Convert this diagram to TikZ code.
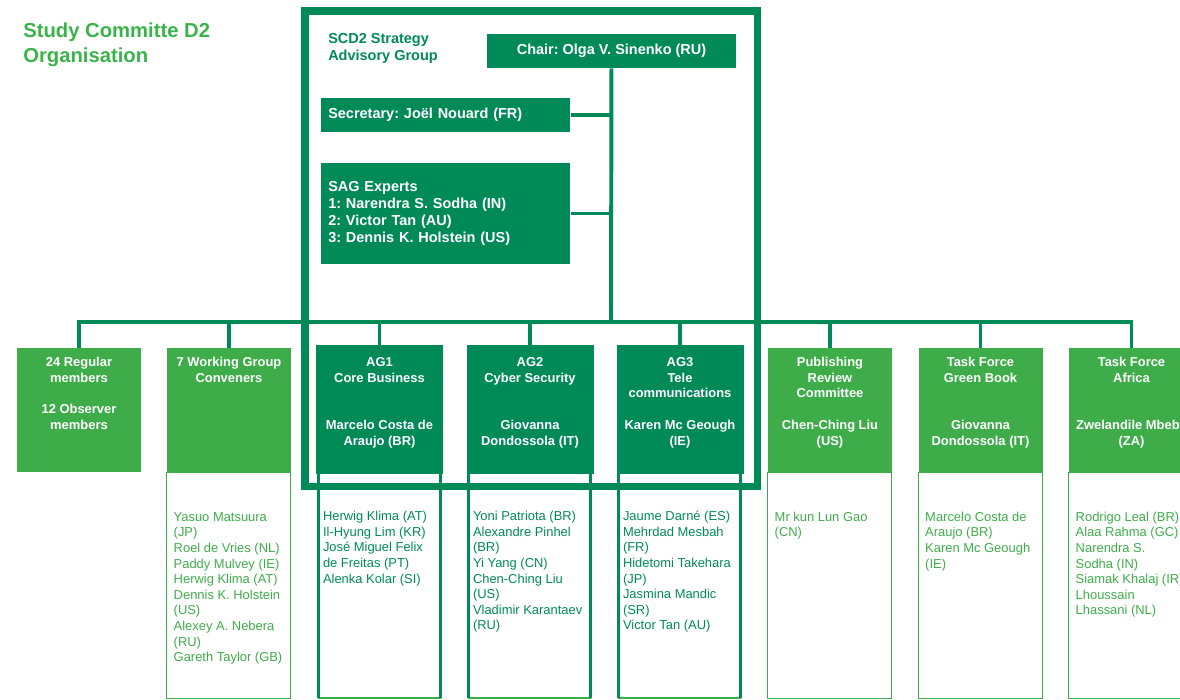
\documentclass[tikz,border=0pt]{standalone}
\usepackage{fontspec}
\setmainfont{Liberation Sans}
\usepackage{tikz}

\definecolor{sgdark}{RGB}{0,138,88}
\definecolor{sglight}{RGB}{62,173,73}
\definecolor{sgtitle}{RGB}{58,180,74}
\newlength\pxu
\setlength\pxu{0.025cm}
\frenchspacing
\newcommand{\headfont}{\fontsize{9.2}{11.2}\selectfont\bfseries}
\newcommand{\listfont}{\fontsize{9.2}{11.1}\selectfont}
\newcommand{\sagfont}{\fontsize{10.3}{12}\selectfont\bfseries}
\newcommand{\headtext}[4]{\parbox[t][#2\pxu][t]{#1\pxu}{\centering\rule{0pt}{#3\pxu}#4}}
\newcommand{\listtext}[3]{\parbox[t][226\pxu][t]{#1\pxu}{\leftskip=#2\pxu\rightskip=-40\pxu plus 1fil\parfillskip=0pt plus 1fil\rule{0pt}{48.7\pxu}#3}}
\newcommand{\toptext}[3]{\parbox[t]{#1\pxu}{\raggedright\rule{0pt}{#2\pxu}#3}}

\begin{document}
\begin{tikzpicture}[x = 0.025cm, y = -0.025cm]
		\tikzset{
			conn/.style = {sgdark, line width = 2.8pt},
			headlight/.style = {anchor = north, inner sep = 0pt, fill = sglight, text = white, font = \headfont},
			headdark/.style = {headlight, fill = sgdark},
			listlight/.style = {anchor = north west, inner sep = 0pt, outer sep = 0pt, draw = sglight, line width = 0.8pt, text = sglight, font = \listfont},
			listdark/.style = {listlight, text = sgdark},
			sagbox/.style = {inner sep = 0pt, fill = sgdark, text = white, font = \sagfont}
		}
		\useasboundingbox (0,0) rectangle (1180,699);
		\clip (0,0) rectangle (1180,699);
		\node[anchor = north west, inner sep = 0pt, text = sgtitle, font = \fontsize{14.4}{17.7}\selectfont\bfseries] (Title) at (23,17.3) {\toptext{260}{20}{Study Committe D2\\Organisation}};
		% strategy advisory group
		\node[anchor = north west, inner sep = 0pt, outer sep = 0pt, draw = sgdark, line width = 5pt, minimum width = 11.3cm, minimum height = 11.875cm] (SAG) at (305,11) {};
		\node[anchor = north west, inner sep = 0pt, text = sgdark, font = \sagfont] (SAGname) at (328,28.2) {\toptext{150}{15}{SCD2 Strategy\\Advisory Group}};
		\node[sagbox, minimum width = 6.225cm, minimum height = 0.85cm] (Chair) at (611.5,51) {Chair: Olga V. Sinenko (RU)};
		\node[sagbox, anchor = west, align = left, text width = 5.875cm, inner xsep = 0.175cm, minimum height = 0.85cm] (Sec) at (321,115) {Secretary: Joël Nouard (FR)};
		\node[sagbox, anchor = west, align = left, text width = 5.875cm, inner xsep = 0.175cm, minimum height = 2.525cm] (Exp) at (321,213.5) {SAG Experts\\1: Narendra S. Sodha (IN)\\2: Victor Tan (AU)\\3: Dennis K. Holstein (US)};
		% column heads
		\node[headlight] (Members) at (79,348) {\headtext{124}{124}{18}{24 Regular\\members\\[11.2pt]12 Observer\\members}};
		\node[headlight] (WGC) at (229,348) {\headtext{124}{124}{18}{7 Working Group\\Conveners}};
		\node[headdark] (AG1) at (379.5,345) {\headtext{127}{129}{21}{AG1\\Core Business\\[22.4pt]Marcelo Costa de\\Araujo (BR)}};
		\node[headdark] (AG2) at (530,345) {\headtext{127}{129}{21}{AG2\\Cyber Security\\[22.4pt]Giovanna\\Dondossola (IT)}};
		\node[headdark] (AG3) at (680,345) {\headtext{127}{129}{21}{AG3\\Tele\\communications\\[11.2pt]Karen Mc Geough\\(IE)}};
		\node[headlight] (PRC) at (830,348) {\headtext{124}{124}{18}{Publishing\\Review\\Committee\\[11.2pt]Chen-Ching Liu\\(US)}};
		\node[headlight] (TFGB) at (980.5,348) {\headtext{124}{124}{18}{Task Force\\Green Book\\[22.4pt]Giovanna\\Dondossola (IT)}};
		\node[headlight] (TFA) at (1131.5,348) {\headtext{125}{124}{18}{Task Force\\Africa\\[22.4pt]Zwelandile Mbebe\\(ZA)}};
		% member lists
		\node[listlight] (WGClist) at (WGC.south west) {\listtext{124}{7}{Yasuo Matsuura\\(JP)\\Roel de Vries (NL)\\Paddy Mulvey (IE)\\Herwig Klima (AT)\\Dennis K. Holstein\\(US)\\Alexey A. Nebera\\(RU)\\Gareth Taylor (GB)}};
		\node[listdark] (AG1list) at (318.5,472) {\listtext{122}{4.5}{Herwig Klima (AT)\\Il-Hyung Lim (KR)\\José Miguel Felix\\de Freitas (PT)\\Alenka Kolar (SI)}};
		\node[listdark] (AG2list) at (468.5,472) {\listtext{122}{4.5}{Yoni Patriota (BR)\\Alexandre Pinhel\\(BR)\\Yi Yang (CN)\\Chen-Ching Liu\\(US)\\Vladimir Karantaev\\(RU)}};
		\node[listdark] (AG3list) at (618.5,472) {\listtext{122}{4.5}{Jaume Darné (ES)\\Mehrdad Mesbah\\(FR)\\Hidetomi Takehara\\(JP)\\Jasmina Mandic\\(SR)\\Victor Tan (AU)}};
		\node[listlight] (PRClist) at (PRC.south west) {\listtext{124}{7}{Mr kun Lun Gao\\(CN)}};
		\node[listlight] (TFGBlist) at (TFGB.south west) {\listtext{124}{7}{Marcelo Costa de\\Araujo (BR)\\Karen Mc Geough\\(IE)}};
		\node[listlight] (TFAlist) at (TFA.south west) {\listtext{125}{7}{Rodrigo Leal (BR)\\Alaa Rahma (GC)\\Narendra S.\\Sodha (IN)\\Siamak Khalaj (IR)\\Lhoussain\\Lhassani (NL)}};
		\foreach \l in {AG1list,AG2list,AG3list}
			\draw[sgdark, line width = 2.8pt] (\l.south west) -- (\l.north west) -- (\l.north east) -- (\l.south east);
		% connectors
		\coordinate (Bus) at (611,322);
		\draw[conn] (Chair) -- (Bus);
		\draw[conn] (Sec) -- (Sec -| Bus);
		\draw[conn] (Exp) -- (Exp -| Bus);
		\foreach \h in {Members,WGC,AG1,AG2,AG3,PRC,TFGB,TFA}
			\draw[conn] (Bus) -| (\h.north);
	\end{tikzpicture}
\end{document}
